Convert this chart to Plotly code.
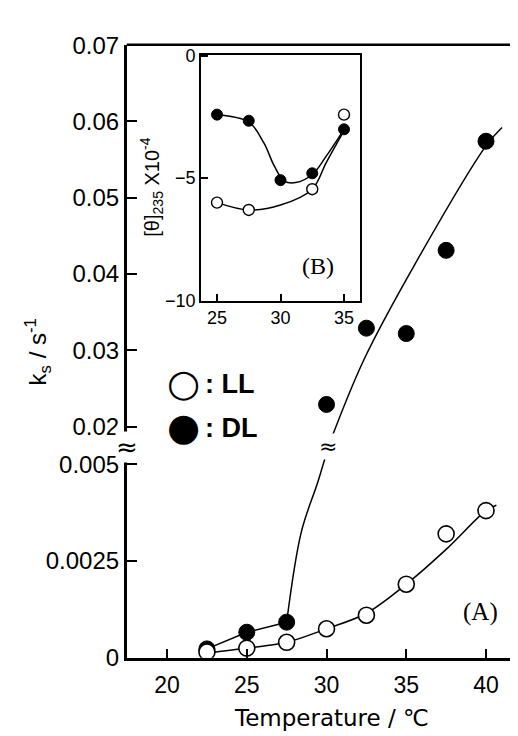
import plotly.graph_objects as go

# ---------------- data (main panel A) ----------------
temps = [22.5, 25, 27.5, 30, 32.5, 35, 37.5, 40]
ll_ks = [0.00015, 0.00025, 0.0004, 0.00075, 0.0011, 0.0019, 0.0032, 0.0038]
dl_ks_low_T = [22.5, 25, 27.5]
dl_ks_low = [0.00023, 0.00066, 0.00092]
dl_ks_high_T = [30, 32.5, 35, 37.5, 40]
dl_ks_high = [0.0229, 0.0329, 0.0322, 0.0431, 0.0574]

# hand-drawn guide curves
ll_curve_T = [22.5, 25, 27.5, 30, 32.5, 35, 37.5, 40, 40.65]
ll_curve_k = [0.00012, 0.00025, 0.0004, 0.00075, 0.00115, 0.0019, 0.0028, 0.0038, 0.00394]
dl_curve_base_T = [22.5, 25, 27.5]
dl_curve_base_k = [0.00023, 0.00066, 0.00092]
dl_curve_rise_T = [27.5, 28.42, 29.47, 30.15]
dl_curve_rise_k = [0.00092, 0.00325, 0.00456, 0.0055]
dl_curve_high_T = [30.15, 32.35, 35.6, 40.0, 41.0]
dl_curve_high_k = [0.0176, 0.0288, 0.0415, 0.0568, 0.0592]

# ---------------- data (inset B) ----------------
b_dl_T = [25, 27.5, 30, 32.5, 35]
b_dl = [-2.4, -2.65, -5.08, -4.8, -3.0]
b_ll_T = [25, 27.5, 32.5, 35]
b_ll = [-6.0, -6.3, -5.45, -2.4]
b_dl_curve_T = [25, 27.5, 28.7, 29.5, 30.3, 31.2, 32.5, 33.6, 35]
b_dl_curve = [-2.4, -2.7, -3.57, -4.49, -5.12, -5.18, -4.85, -4.1, -3.0]
b_ll_curve_T = [25, 27.5, 30, 32.5, 33.6, 35]
b_ll_curve = [-6.0, -6.3, -6.1, -5.45, -4.36, -3.05]

# tick labels
x_ticks = [20, 25, 30, 35, 40]
y_low_ticks = [0, 0.0025, 0.005]
y_low_text = ["0", "0.0025", "0.005"]
y_high_ticks = [0.02, 0.03, 0.04, 0.05, 0.06, 0.07]
y_high_text = ["0.02", "0.03", "0.04", "0.05", "0.06", "0.07"]
b_x_ticks = [25, 30, 35]
b_y_ticks = [0, -5, -10]
b_y_text = ["0", "\u22125", "\u221210"]

W, H = 518, 736
def px(x):
    return x / W
def py(y):
    return 1 - y / H

LINE = dict(color="black", width=1.5)
fig = go.Figure()

def curve(xs, ys, xa, ya, shape="spline"):
    fig.add_trace(go.Scatter(x=xs, y=ys, mode="lines", line=dict(shape=shape, **LINE),
                             xaxis=xa, yaxis=ya, hoverinfo="skip"))

# main curves
curve(ll_curve_T, ll_curve_k, "x", "y")
curve(dl_curve_base_T, dl_curve_base_k, "x", "y", "linear")
curve(dl_curve_rise_T, dl_curve_rise_k, "x", "y")
curve(dl_curve_high_T, dl_curve_high_k, "x", "y2")
# main markers
fig.add_trace(go.Scatter(x=dl_ks_low_T, y=dl_ks_low, mode="markers",
                         marker=dict(size=16, color="black", line=dict(color="black", width=1)),
                         xaxis="x", yaxis="y", name="DL"))
fig.add_trace(go.Scatter(x=temps, y=ll_ks, mode="markers",
                         marker=dict(size=16, color="white", line=dict(color="black", width=1.6)),
                         xaxis="x", yaxis="y", name="LL"))
fig.add_trace(go.Scatter(x=dl_ks_high_T, y=dl_ks_high, mode="markers",
                         marker=dict(size=16, color="black", line=dict(color="black", width=1)),
                         xaxis="x", yaxis="y2", name="DL"))

# inset curves
curve(b_dl_curve_T, b_dl_curve, "x3", "y3")
curve(b_ll_curve_T, b_ll_curve, "x3", "y3")
fig.add_trace(go.Scatter(x=b_ll_T, y=b_ll, mode="markers",
                         marker=dict(size=11, color="white", line=dict(color="black", width=1.4)),
                         xaxis="x3", yaxis="y3"))
fig.add_trace(go.Scatter(x=b_dl_T, y=b_dl, mode="markers",
                         marker=dict(size=11, color="black", line=dict(color="black", width=1)),
                         xaxis="x3", yaxis="y3"))

TICKFONT = dict(family="Liberation Sans, Arial, sans-serif", size=24, color="black")
AX = dict(showgrid=False, zeroline=False, showline=True, linecolor="black", ticks="inside",
          tickcolor="black")

x_left, x_right = 118.7, 517
y_bottom, y_break, y_top = 660, 439, 24

fig.update_layout(
    width=W, height=H, margin=dict(l=0, r=0, t=0, b=0),
    paper_bgcolor="white", plot_bgcolor="white", showlegend=False,
    xaxis=dict(AX, domain=[px(x_left), px(x_right)], range=[17.47, 42.445], anchor="y",
               linewidth=2.5, tickwidth=2, ticklen=9, tickvals=x_ticks,
               tickfont=dict(TICKFONT, size=23), ticklabelstandoff=5),
    yaxis=dict(AX, domain=[py(y_bottom), py(y_break)], range=[0, 0.0054975], anchor="x",
               linewidth=2.5, tickwidth=2, ticklen=11, tickvals=y_low_ticks, ticktext=y_low_text,
               tickfont=TICKFONT),
    yaxis2=dict(AX, domain=[py(y_break), py(y_top)], range=[0.0176, 0.07], anchor="x",
                linewidth=2.5, tickwidth=2, ticklen=11, tickvals=y_high_ticks, ticktext=y_high_text,
                tickfont=TICKFONT),
    xaxis3=dict(AX, domain=[px(193), px(352)], range=[23.74, 36.26], anchor="y3", mirror=True,
                linewidth=1.8, tickwidth=1.5, ticklen=7, tickvals=b_x_ticks,
                tickfont=dict(TICKFONT, size=18), ticklabelstandoff=0),
    yaxis3=dict(AX, domain=[py(289.25), py(34)], range=[-10.01, 0.05], anchor="x3", mirror=True,
                linewidth=1.8, tickwidth=1.5, ticklen=7, tickvals=b_y_ticks, ticktext=b_y_text,
                tickfont=dict(TICKFONT, size=18), ticklabelstandoff=0),
    shapes=[
        dict(type="line", xref="paper", yref="paper", x0=px(x_left), x1=px(x_right),
             y0=py(23.5), y1=py(23.5), line=dict(color="black", width=2.5)),
        dict(type="line", xref="paper", yref="paper", x0=px(x_right), x1=px(x_right),
             y0=py(23.5), y1=py(y_bottom), line=dict(color="black", width=1.5)),
    ],
)

ann = [
    # axis titles
    dict(text="k<sub>s</sub> / s<sup>-1</sup>", x=px(30), y=py(343), textangle=-90,
         font=dict(family="Liberation Sans, Arial, sans-serif", size=24)),
    dict(text="Temperature / \u2103", x=px(323), y=py(722),
         font=dict(family="DejaVu Sans, sans-serif", size=23)),
    dict(text="[\u03b8]<sub>235</sub> X10<sup>-4</sup>", x=px(144), y=py(172), textangle=-90,
         font=dict(family="Liberation Sans, Arial, sans-serif", size=20)),
    # panel labels
    dict(text="(A)", x=px(472), y=py(612), font=dict(family="Liberation Serif, Times New Roman, serif", size=25)),
    dict(text="(B)", x=px(310), y=py(253), font=dict(family="Liberation Serif, Times New Roman, serif", size=24)),
    # legend
    dict(text="\u25cb", x=px(175), y=py(375), font=dict(family="DejaVu Sans, sans-serif", size=38)),
    dict(text="\u25cf", x=px(175), y=py(420), font=dict(family="DejaVu Sans, sans-serif", size=38)),
    dict(text="<b>: LL</b>", x=px(195), y=py(376), xanchor="left",
         font=dict(family="Liberation Sans, Arial, sans-serif", size=27)),
    dict(text="<b>: DL</b>", x=px(195), y=py(421), xanchor="left",
         font=dict(family="Liberation Sans, Arial, sans-serif", size=27)),
    # axis break marks
    dict(text="\u2248", x=px(x_left), y=py(441), bgcolor="white", borderpad=0,
         font=dict(family="DejaVu Sans, sans-serif", size=26)),
    dict(text="\u2248", x=px(319.5), y=py(441), bgcolor="white", borderpad=0,
         font=dict(family="DejaVu Sans, sans-serif", size=22)),
]
for a in ann:
    a.setdefault("xref", "paper")
    a.setdefault("yref", "paper")
    a.setdefault("showarrow", False)
    a.setdefault("xanchor", "center")
    a.setdefault("yanchor", "middle")
    a["font"].setdefault("color", "black")
fig.update_layout(annotations=ann)

fig.write_html("out.html")
